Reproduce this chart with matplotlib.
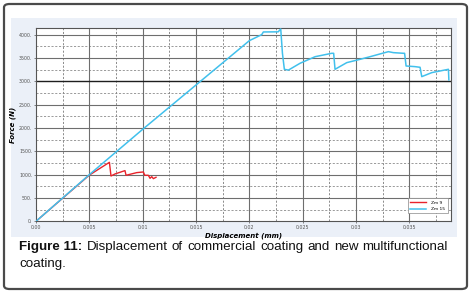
import matplotlib
matplotlib.use("Agg")
import matplotlib.pyplot as plt
from matplotlib.patches import FancyBboxPatch, Rectangle

# ---- data ----
blue_x = [0.0, 0.005, 0.010, 0.015, 0.020, 0.02116, 0.02131, 0.0227, 0.02294,
          0.02310, 0.02328, 0.02366, 0.02475, 0.02616, 0.02772, 0.02790,
          0.02803, 0.02913, 0.03038, 0.03131, 0.03303, 0.0335, 0.03444,
          0.03455, 0.03469, 0.03553, 0.03600, 0.03616, 0.0371, 0.03866, 0.0387]
blue_y = [0, 1000, 1971, 2921, 3871, 4000, 4057, 4060, 4121,
          3600, 3257, 3240, 3386, 3527, 3600, 3600,
          3257, 3400, 3471, 3527, 3635, 3614, 3600,
          3600, 3328, 3314, 3300, 3100, 3186, 3257, 3029]
red_x = [0.0, 0.005, 0.00688, 0.00703, 0.00740, 0.00834, 0.00844, 0.00944,
         0.01006, 0.01020, 0.01053, 0.01069, 0.01085, 0.0110, 0.01125]
red_y = [0, 990, 1264, 971, 1014, 1086, 986, 1043,
         1057, 986, 986, 921, 957, 914, 943]
series_names = ["Zm 9", "Zm 15"]
x_ticks = [0.0, 0.005, 0.010, 0.015, 0.020, 0.025, 0.030, 0.035]
x_ticklabels = ["0.00", "0.005", "0.01", "0.015", "0.02", "0.025", "0.03", "0.035"]
y_ticks = [0, 500, 1000, 1500, 2000, 2500, 3000, 3500, 4000]
y_ticklabels = ["0.", "500.", "1000.", "1500.", "2000.", "2500.", "3000.", "3500.", "4000."]
caption_bold = "Figure 11:"
caption_line1 = "Displacement of commercial coating and new multifunctional"
caption_line2 = "coating."

W, H = 469, 292
fig = plt.figure(figsize=(W / 100, H / 100), dpi=100)
fig.patch.set_facecolor("white")

def px(x, y):
    return x / W, 1 - y / H

# outer rounded frame
frame = FancyBboxPatch(px(4, 289), (463) / W, (285) / H,
                       boxstyle="round,pad=0,rounding_size=0.012",
                       transform=fig.transFigure, facecolor="white",
                       edgecolor="#4a4a4a", linewidth=1.6, zorder=-2)
fig.patches.append(frame)
# light blue panel
panel = Rectangle(px(11, 237), (457 - 11) / W, (237 - 18) / H,
                  transform=fig.transFigure, facecolor="#ebf0f8",
                  edgecolor="none", zorder=-1)
fig.patches.append(panel)

ax = fig.add_axes([36 / W, 1 - 221.3 / H, (451 - 36) / W, (221.3 - 28) / H])
ax.set_zorder(2)
ax.set_facecolor("white")
ax.set_xlim(0, 0.0389)
ax.set_ylim(0, 4142)

# grid
for xv in [0.0025 + 0.005 * i for i in range(8)]:
    ax.axvline(xv, color="#7a7a7a", lw=0.6, ls=(0, (2.5, 2)), zorder=1)
for yv in [250 + 500 * i for i in range(8)]:
    ax.axhline(yv, color="#8a8a8a", lw=0.6, ls=(0, (2.5, 2)), zorder=1)
for xv in x_ticks[1:]:
    ax.axvline(xv, color="#6e6e6e", lw=0.8, zorder=1)
for yv in y_ticks[1:]:
    ax.axhline(yv, color="#1e1e1e" if yv == 3000 else "#6e6e6e",
               lw=1.0 if yv == 3000 else 0.8, zorder=1)

ax.plot(red_x, red_y, color="#e8232b", lw=1.0, label=series_names[0], zorder=3)
ax.plot(blue_x, blue_y, color="#41c0ec", lw=1.1, label=series_names[1], zorder=4)

ax.set_xticks(x_ticks)
ax.set_xticklabels(x_ticklabels, fontsize=3.4, color="#555")
ax.set_yticks(y_ticks)
ax.set_yticklabels(y_ticklabels, fontsize=3.4, color="#555")
ax.tick_params(length=1.5, width=0.5, pad=1, colors="#555")
for s in ax.spines.values():
    s.set_color("#555555")
    s.set_linewidth(0.8)

ax.set_xlabel("Displacement (mm)", fontsize=5, fontweight="bold",
              fontstyle="italic", labelpad=2)
ax.set_ylabel("Force (N)", fontsize=5, fontweight="bold",
              fontstyle="italic", labelpad=2)

leg = ax.legend(loc="lower right", bbox_to_anchor=(0.992, 0.041),
                borderaxespad=0, fontsize=3.2, handlelength=3.5,
                fancybox=False, edgecolor="#888", framealpha=1,
                borderpad=0.5, labelspacing=0.5, handletextpad=1.2)
leg.get_frame().set_linewidth(0.5)

# caption, justified first line
cap_font = dict(family="Liberation Sans", fontsize=9.6, color="#111")
fig.canvas.draw()
renderer = fig.canvas.get_renderer()
y1 = 1 - 250 / H
y2 = 1 - 267 / H
left, right = 19, 448
words = [(caption_bold, "bold")] + [(w, "normal") for w in caption_line1.split()]
widths = []
for w, wt in words:
    t = fig.text(0, 0, w, fontweight=wt, **cap_font)
    widths.append(t.get_window_extent(renderer).width)
    t.remove()
gap = (right - left - sum(widths)) / (len(words) - 1)
x = left
for (w, wt), wd in zip(words, widths):
    fig.text(x / W, y1, w, fontweight=wt, va="baseline", **cap_font)
    x += wd + gap
fig.text(left / W, y2, caption_line2, va="baseline", **cap_font)

fig.savefig("out.png", dpi=100)
